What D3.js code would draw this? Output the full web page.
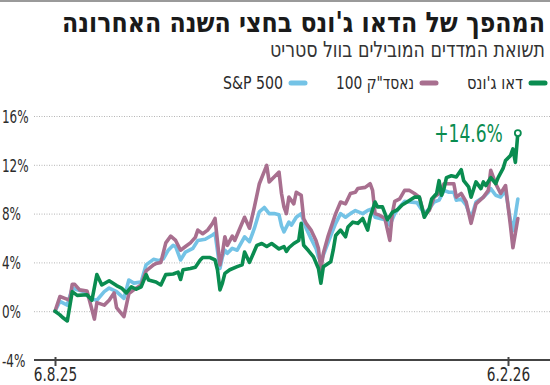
<!DOCTYPE html>
<html lang="he">
<head>
<meta charset="utf-8">
<script src="https://cdn.jsdelivr.net/npm/d3@7"></script>
<style>
  html, body { margin: 0; padding: 0; background: #fff; }
  svg { display: block; }
  text { font-family: "Liberation Sans Narrow", "DejaVu Sans Condensed", "Liberation Sans", sans-serif; fill: #2b2b2b; }
</style>
</head>
<body>
<svg id="chart" width="550" height="385"></svg>
<script>
// Returns of the leading Wall Street indices, 6.8.25 – ~10.2.26.
// Each point is [days since 6.8.25, cumulative return in %].

const title = "המהפך של הדאו ג'ונס בחצי השנה האחרונה";
const subtitle = "תשואת המדדים המובילים בוול סטריט";

const seriesNames = ["דאו ג'ונס", "נאסד\"ק 100", "S&P 500"];
const seriesColors = ["#0a8c50", "#a86f8f", "#74c3e6"];

const yTicks = [-4, 0, 4, 8, 12, 16];
const xTickDates = ["2025-08-06", "2026-02-06"];
const endLabel = "+14.6%";

const dow = [
  [0, 0], [2, -0.3], [3, -0.5], [5, -0.8], [7, 1.6], [9, 1.3], [13, 1.35], [15, 0.9],
  [17, 3.0], [19, 2.15], [22, 2.5], [25, 2.1], [27, 1.9], [29, 1.5], [31, 2.0], [33, 1.8],
  [35, 2.0], [37, 3.0], [38, 2.55], [41, 2.4], [43, 2.15], [45, 3.0], [48, 3.05], [50, 3.2],
  [51, 2.6], [52, 3.4], [55, 3.5], [57, 3.6], [59, 4.2], [60, 4.4], [63, 4.4], [65, 4.2],
  [66, 3.4], [67, 1.75], [68, 2.3], [69, 3.1], [71, 3.4], [74, 3.65], [76, 3.8], [77, 4.85],
  [79, 4.0], [82, 5.4], [84, 5.55], [86, 5.3], [88, 5.55], [91, 5.1], [93, 5.3], [94, 4.9],
  [95, 5.2], [97, 5.55], [99, 5.8], [100, 7.2], [101, 5.4], [103, 4.95], [105, 4.45], [107, 3.5],
  [108, 2.3], [109, 3.65], [112, 4.05], [113, 5.0], [114, 6.2], [116, 6.65], [118, 6.1], [119, 6.9],
  [121, 7.3], [123, 7.2], [125, 7.6], [127, 6.65], [128, 7.7], [130, 8.95], [131, 8.55], [133, 8.55],
  [135, 7.5], [137, 8.1], [139, 8.3], [141, 8.7], [143, 8.95], [146, 9.35], [148, 9.35], [150, 7.7],
  [152, 8.4], [153, 9.2], [155, 9.65], [156, 10.7], [157, 9.5], [158, 10.05], [159, 10.95], [161, 11.1],
  [163, 11.0], [165, 11.6], [166, 10.7], [168, 10.2], [169, 9.35], [171, 10.6], [173, 10.05], [174, 10.6],
  [175, 10.3], [177, 10.95], [179, 10.45], [180, 10.95], [182, 11.7], [183, 12.35], [185, 12.75], [186, 13.3],
  [187, 12.2], [188, 14.6]
];

const nasdaq = [
  [0, 0], [2, 1.2], [4, 1.05], [6, 0.9], [7, 2.2], [8, 2.2], [10, 1.75], [13, 1.65],
  [14, 0.9], [16, -0.65], [17, 0.7], [20, 0.5], [22, 0.9], [24, 1.5], [25, 0.3], [28, -0.45],
  [30, 1.45], [32, 1.75], [35, 2.15], [37, 3.3], [40, 3.8], [41, 3.9], [43, 4.0], [45, 5.6],
  [47, 6.15], [49, 5.8], [51, 5.0], [53, 5.3], [55, 5.6], [57, 6.05], [58, 6.65], [60, 6.35],
  [62, 6.65], [64, 7.2], [65, 7.6], [67, 3.8], [68, 4.75], [69, 6.1], [70, 5.4], [72, 6.15],
  [73, 5.8], [77, 7.7], [79, 6.8], [81, 8.55], [83, 10.45], [86, 11.95], [87, 10.6], [89, 11.0],
  [91, 11.4], [92, 9.65], [93, 8.55], [94, 8.0], [95, 9.35], [97, 8.8], [98, 9.75], [100, 9.5],
  [101, 7.6], [102, 7.2], [104, 6.65], [106, 5.8], [107, 5.15], [108, 3.4], [109, 4.75], [111, 6.2],
  [114, 8.0], [116, 8.95], [118, 8.8], [120, 9.65], [122, 9.75], [123, 10.05], [126, 10.15], [128, 10.45],
  [129, 9.9], [130, 8.0], [132, 7.85], [134, 7.6], [136, 5.8], [137, 8.0], [138, 9.0], [140, 9.2],
  [142, 9.9], [144, 9.9], [146, 9.65], [148, 9.35], [150, 7.85], [152, 8.25], [154, 9.35], [156, 9.65],
  [158, 10.45], [162, 10.45], [163, 9.35], [165, 9.65], [167, 8.95], [169, 7.2], [171, 8.8], [174, 9.35],
  [176, 9.9], [177, 11.55], [179, 10.45], [181, 9.65], [183, 10.3], [185, 7.0], [186, 5.2], [188, 7.6]
];

const sp500 = [
  [0, 0], [2, 0.8], [5, 0.5], [7, 1.9], [9, 1.75], [12, 1.6], [14, 1.05], [17, 0.9],
  [20, 1.6], [22, 1.9], [25, 1.6], [28, 1.05], [30, 2.55], [32, 2.3], [35, 2.4], [37, 3.8],
  [40, 4.25], [42, 4.15], [44, 4.3], [46, 5.0], [48, 5.4], [49, 5.3], [51, 4.2], [53, 4.85],
  [56, 5.15], [58, 5.8], [61, 5.9], [64, 6.25], [65, 6.4], [67, 3.5], [68, 4.45], [69, 5.0],
  [70, 4.75], [72, 5.15], [74, 5.0], [77, 6.1], [79, 5.7], [81, 6.8], [83, 8.15], [85, 8.5],
  [87, 8.0], [89, 8.0], [91, 7.9], [92, 7.0], [93, 6.5], [95, 7.3], [96, 7.05], [98, 7.7],
  [100, 8.0], [102, 6.8], [104, 5.95], [106, 5.15], [107, 4.45], [108, 4.05], [109, 4.6], [112, 6.2],
  [114, 7.2], [116, 8.0], [118, 7.7], [120, 8.0], [122, 8.25], [125, 8.0], [127, 8.25], [129, 8.4],
  [130, 7.7], [132, 7.6], [135, 7.45], [136, 7.05], [138, 8.0], [140, 8.55], [142, 9.0], [144, 8.95],
  [147, 8.9], [150, 8.0], [152, 8.4], [154, 8.95], [156, 9.1], [158, 9.9], [160, 9.75], [162, 9.75],
  [163, 9.1], [165, 9.2], [167, 8.7], [169, 7.6], [171, 8.95], [174, 9.35], [176, 9.75], [177, 10.05],
  [179, 9.5], [181, 9.35], [183, 9.9], [185, 7.45], [186, 6.6], [188, 9.2]
];

const W = 550, H = 385;
const svg = d3.select("#chart");
const start = new Date(Date.UTC(2025, 7, 6));
const parse = d3.utcParse("%Y-%m-%d");
const toDate = d => d3.utcDay.offset(start, d);

const x = d3.scaleUtc()
  .domain(xTickDates.map(parse))
  .range([55, 508]);
const y = d3.scaleLinear().domain([-4, 16]).range([360, 116]);

// thin rule across the top
svg.append("rect").attr("x", 0).attr("y", 0).attr("width", W).attr("height", 2).attr("fill", "#9a9a9a");

// squeeze text horizontally to mimic the condensed face of the original
function condense(sel, factor) {
  sel.each(function () {
    const len = this.getComputedTextLength();
    d3.select(this).attr("textLength", len * factor).attr("lengthAdjust", "spacingAndGlyphs");
  });
}
function fitText(sel, maxW) {
  const len = sel.node().getComputedTextLength();
  if (len > maxW) sel.attr("textLength", maxW).attr("lengthAdjust", "spacingAndGlyphs");
}
// Hebrew text: rtl direction, so "start" anchors at the right edge
function rtlText(parent, x0, y0, str, size, weight, color, maxW) {
  return parent.append("text")
    .attr("x", x0).attr("y", y0)
    .attr("direction", "rtl").attr("text-anchor", "start")
    .style("direction", "rtl").style("unicode-bidi", "embed")
    .style("font-size", size + "px").style("font-weight", weight).style("fill", color)
    .text(str).call(fitText, maxW);
}

rtlText(svg, 545, 32, title, 28, "bold", "#1a1a1a", 483);
rtlText(svg, 545, 57, subtitle, 22, "normal", "#333", 275);

// legend, right to left
const legendItems = [
  { name: seriesNames[0], color: seriesColors[0], sw: 529, tx: 523, w: 56, rtl: true },
  { name: seriesNames[1], color: seriesColors[1], sw: 420, tx: 414, w: 78, rtl: true },
  { name: seriesNames[2], color: seriesColors[2], sw: 289, tx: 283, w: 60, rtl: false }
];
const legend = svg.append("g").attr("class", "legend");
legendItems.forEach(it => {
  legend.append("line")
    .attr("x1", it.sw + 2).attr("x2", it.sw + 16).attr("y1", 83).attr("y2", 83)
    .attr("stroke", it.color).attr("stroke-width", 5).attr("stroke-linecap", "round");
  if (it.rtl) {
    rtlText(legend, it.tx, 89, it.name, 18, "normal", "#2b2b2b", it.w);
  } else {
    legend.append("text").attr("x", it.tx).attr("y", 89).attr("text-anchor", "end")
      .style("font-size", "18px").style("fill", "#2b2b2b")
      .text(it.name).call(fitText, it.w);
  }
});

// y grid + labels
const yAxis = svg.append("g").attr("class", "y-axis")
  .call(d3.axisLeft(y).tickValues(yTicks).tickSize(0).tickFormat(d => d + "%"));
yAxis.select(".domain").remove();
yAxis.selectAll(".tick text")
  .attr("x", 2).attr("dy", "0.35em").attr("text-anchor", "start")
  .style("font-size", "18px").style("fill", "#2b2b2b").style("font-family", null)
  .call(condense, 0.74);
yAxis.selectAll(".tick")
  .filter(d => d !== -4)
  .append("line")
  .attr("x1", 34).attr("x2", W)
  .attr("stroke", "#b5b5b5").attr("stroke-width", 1).attr("stroke-dasharray", "1,1.5");

// x axis
svg.append("line").attr("x1", 34).attr("x2", W).attr("y1", y(-4)).attr("y2", y(-4))
  .attr("stroke", "#444").attr("stroke-width", 2);
const xAxis = svg.append("g").attr("transform", `translate(0,${y(-4)})`)
  .call(d3.axisBottom(x).tickValues(xTickDates.map(parse)).tickSize(6)
    .tickFormat(d3.utcFormat("%-d.%-m.%y")));
xAxis.select(".domain").remove();
xAxis.selectAll(".tick line").attr("y1", -3).attr("stroke", "#444").attr("stroke-width", 2);
xAxis.selectAll(".tick text").attr("y", 8)
  .style("font-size", "19px").style("fill", "#2b2b2b").style("font-family", null)
  .call(condense, 0.8);

// lines: S&P first, Nasdaq, Dow on top
const line = d3.line()
  .x(d => x(toDate(d[0])))
  .y(d => y(d[1]))
  .curve(d3.curveLinear);

const drawOrder = [
  { data: sp500, color: seriesColors[2] },
  { data: nasdaq, color: seriesColors[1] },
  { data: dow, color: seriesColors[0] }
];
svg.append("g").attr("class", "lines")
  .selectAll("path")
  .data(drawOrder)
  .join("path")
  .attr("d", d => line(d.data))
  .attr("fill", "none")
  .attr("stroke", d => d.color)
  .attr("stroke-width", 3.6)
  .attr("stroke-linejoin", "round")
  .attr("stroke-linecap", "round");

// end marker + label for the Dow
const last = dow[dow.length - 1];
svg.append("circle")
  .attr("cx", x(toDate(last[0]))).attr("cy", y(last[1])).attr("r", 3)
  .attr("fill", "#fff").attr("stroke", seriesColors[0]).attr("stroke-width", 1.8);
svg.append("text")
  .attr("x", x(toDate(last[0])) - 15).attr("y", y(last[1]) + 9)
  .attr("text-anchor", "end")
  .style("font-size", "25px").style("fill", seriesColors[0])
  .text(endLabel)
  .call(condense, 0.76);
</script>
</body>
</html>
